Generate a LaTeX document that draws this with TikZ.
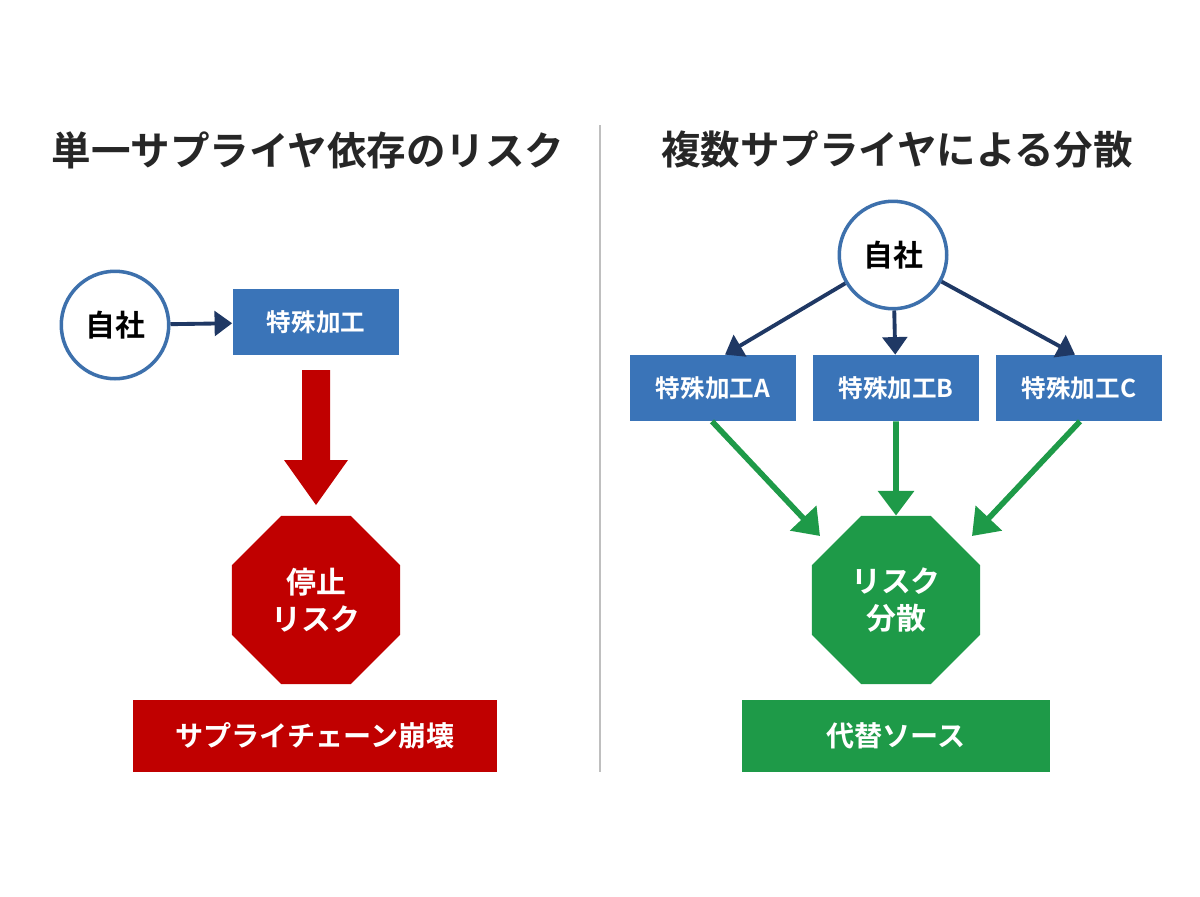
\documentclass[tikz,border=0pt]{standalone}
\usepackage{fontspec}
\setmainfont{Noto Sans CJK JP}[BoldFont={Noto Sans CJK JP Bold}]
\usetikzlibrary{shapes.geometric,arrows.meta}
\definecolor{boxblue}{HTML}{3A74B8}
\definecolor{ringblue}{HTML}{3D70AC}
\definecolor{navy}{HTML}{1F3864}
\definecolor{riskred}{HTML}{C00000}
\definecolor{okgreen}{HTML}{1E9A48}
\begin{document}
\begin{tikzpicture}[
    x = 0.02cm,
    y = -0.02cm,
    font = \bfseries,
    title/.style = {font=\fontsize{22.5}{26}\bfseries\selectfont, text=black!85},
    self/.style = {
      circle,
      draw=ringblue,
      line width=2pt,
      fill=white,
      minimum size=2.15cm,
      font=\fontsize{17}{20}\bfseries\selectfont
    },
    proc/.style = {
      rectangle,
      fill=boxblue,
      text=white,
      minimum height=1.32cm,
      font=\fontsize{14}{17}\bfseries\selectfont
    },
    octa/.style = {
      regular polygon,
      regular polygon sides=8,
      minimum size=3.64cm,
      inner sep=0pt,
      text=white,
      align=center,
      font=\fontsize{17}{21}\bfseries\selectfont
    },
    result/.style = {
      rectangle,
      text=white,
      minimum height=1.44cm,
      font=\fontsize{16}{19}\bfseries\selectfont
    },
    link/.style = {
      draw=navy,
      line width=2.2pt,
      -{Triangle[length=10pt,width=14pt]}
    },
    spread/.style = {
      draw=okgreen,
      line width=3.2pt,
      -{Triangle[length=14pt,width=20pt]}
    }
  ]
    \useasboundingbox (0,0) rectangle (1200,896);
    \fill[white] (0,0) rectangle (1200,896);

    % titles and divider
    \node[title] (tleft) at (308,150) {単一サプライヤ依存のリスク};
    \node[title] (tright) at (897,150) {複数サプライヤによる分散};
    \coordinate (divtop) at (600,125);
    \coordinate (divbot) at (600,772);
    \draw[black!25, line width=0.8pt] (divtop) -- (divbot);

    % left side
    \node[self] (own) at (115,325) {自社};
    \node[proc, minimum width=3.34cm] (sole) at (316,322) {特殊加工};
    \node[octa, fill=riskred] (stop) at (316,600) {停止\\リスク};
    \node[result, fill=riskred, minimum width=7.28cm] (chain) at (315,736) {サプライチェーン崩壊};
    \draw[link] (own) -- (sole);
    \coordinate (shaft) at (316,370);
    \coordinate (tip) at (316,505);
    \fill[riskred] (302,370) -- (330,370) -- (330,460) -- (348,460)
      -- (tip) -- (284,460) -- (302,460) -- cycle;

    % right side
    \node[self] (own2) at (893,255) {自社};
    \node[proc, minimum width=3.34cm] (pa) at (713,388) {特殊加工A};
    \node[proc, minimum width=3.34cm] (pb) at (896,388) {特殊加工B};
    \node[proc, minimum width=3.32cm] (pc) at (1079,388) {特殊加工C};
    \node[octa, fill=okgreen] (mix) at (896,600) {リスク\\分散};
    \node[result, fill=okgreen, minimum width=6.16cm] (alt) at (896,736) {代替ソース};

    \draw[link] (own2) -- (pa.north east -| 725,0);
    \draw[link] (own2) -- (pb);
    \draw[link] (own2) -- (pc.north west -| 1075,0);
    \draw[spread] (pa.south -| 712,0) -- (820,536);
    \draw[spread] (pb) -- (mix);
    \draw[spread] (pc.south -| 1080,0) -- (972,536);
  \end{tikzpicture}
\end{document}
